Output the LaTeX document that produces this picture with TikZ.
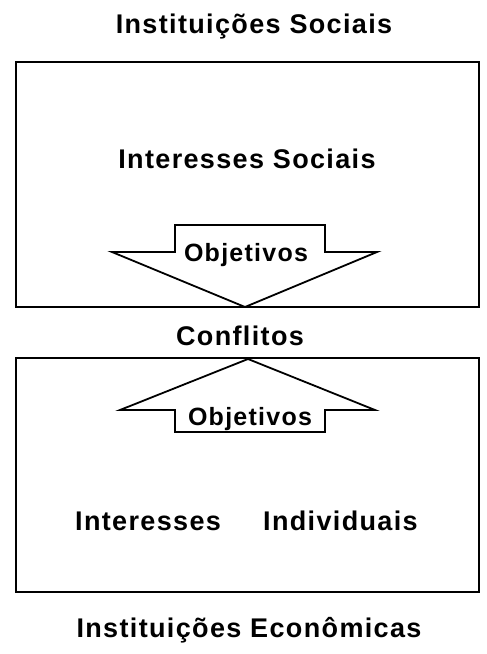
\documentclass[tikz,border=0pt]{standalone}
\usepackage{fontspec}
\newfontfamily\letfont[LetterSpace=5]{Liberation Sans}
\tikzset{
  lbl/.style={font=\letfont\bfseries\fontsize{27}{29}\selectfont, inner sep=0pt, anchor=base},
  small/.style={font=\letfont\bfseries\fontsize{25}{27}\selectfont, inner sep=0pt, anchor=base},
  frame/.style={draw, line width=1.8pt},
  bigarrow/.style={draw, line width=1.8pt, line join=miter}
}
\begin{document}
\begin{tikzpicture}[x=1pt,y=-1pt]
\useasboundingbox (0,0) rectangle (487,654);
% boxes
\coordinate (b1nw) at (16,62);
\coordinate (b1se) at (479,307);
\coordinate (b2nw) at (16,358);
\coordinate (b2se) at (479,592);
\draw[frame] (b1nw) rectangle (b1se);
\draw[frame] (b2nw) rectangle (b2se);
% labels
\node[lbl] (titleS) at (254,33) {Instituições Sociais};
\node[lbl] (intS) at (247,168) {Interesses Sociais};
\node[lbl] (confl) at (240,345) {Conflitos};
\node[lbl, anchor=base west] (intI) at (75,530) {Interesses};
\node[lbl, anchor=base west] (indiv) at (263,530) {Individuais};
\node[lbl] (titleE) at (249,637) {Instituições Econômicas};
% down arrow
\coordinate (dA1) at (112,252);
\coordinate (dA2) at (175,252);
\coordinate (dA3) at (175,225);
\coordinate (dA4) at (325,225);
\coordinate (dA5) at (325,252);
\coordinate (dA6) at (377,252);
\coordinate (dTip) at (245,307);
\draw[bigarrow] (dA1) -- (dA2) -- (dA3) -- (dA4) -- (dA5) -- (dA6) -- (dTip) -- cycle;
\node[small] (objD) at (246,261) {Objetivos};
% up arrow
\coordinate (uA1) at (120,410);
\coordinate (uA2) at (175,410);
\coordinate (uA3) at (175,432);
\coordinate (uA4) at (325,432);
\coordinate (uA5) at (325,410);
\coordinate (uA6) at (375,410);
\coordinate (uTip) at (248,359);
\draw[bigarrow] (uA1) -- (uA2) -- (uA3) -- (uA4) -- (uA5) -- (uA6) -- (uTip) -- cycle;
\node[small] (objU) at (250,425) {Objetivos};
\end{tikzpicture}
\end{document}
